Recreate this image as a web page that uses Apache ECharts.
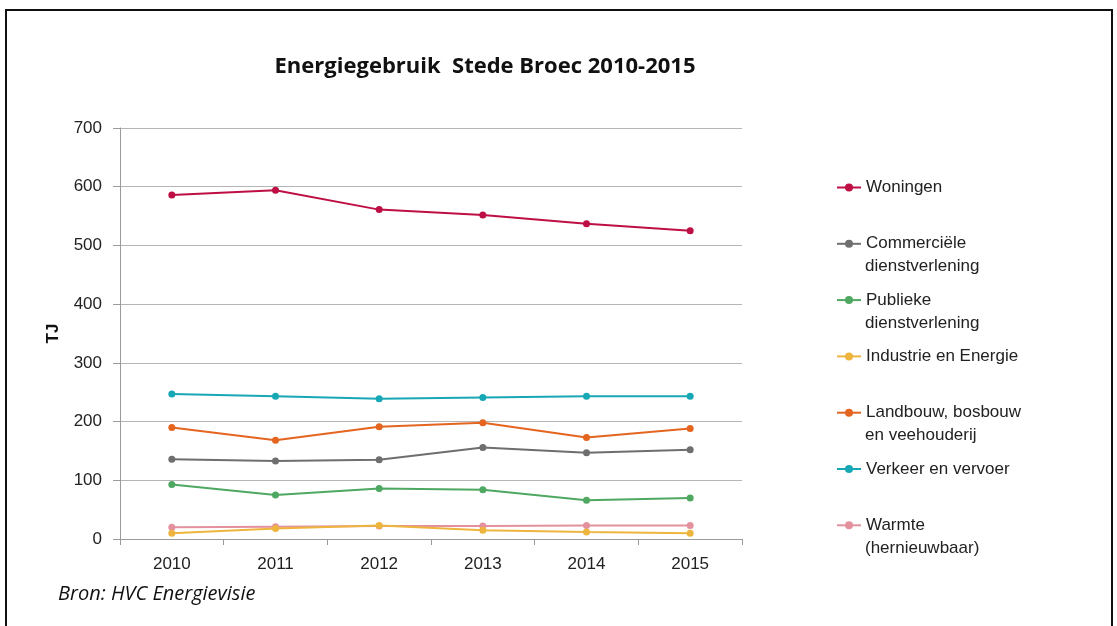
<!DOCTYPE html>
<html><head><meta charset="utf-8">
<script src="https://cdn.jsdelivr.net/npm/echarts@6/dist/echarts.min.js"></script>
<style>html,body{margin:0;padding:0;background:#fff}#c{width:1117px;height:626px}</style>
</head><body><div id="c"></div>
<script>
const years = ['2010','2011','2012','2013','2014','2015'];
const yTicks = [0,100,200,300,400,500,600,700];
const seriesNames = ['Woningen','Commerciële dienstverlening','Publieke dienstverlening','Industrie en Energie','Landbouw, bosbouw en veehouderij','Verkeer en vervoer','Warmte (hernieuwbaar)'];
const legendLine1 = ['Woningen','Commerciële','Publieke','Industrie en Energie','Landbouw, bosbouw','Verkeer en vervoer','Warmte'];
const legendLine2 = ['','dienstverlening','dienstverlening','','en veehouderij','','(hernieuwbaar)'];
const woningen = [586, 594, 561, 552, 537, 525];
const commercieel = [136, 133, 135, 156, 147, 152];
const publiek = [93, 75, 86, 84, 66, 70];
const industrie = [10, 18, 23, 15, 12, 10];
const landbouw = [190, 168, 191, 198, 173, 188];
const verkeer = [247, 243, 239, 241, 243, 243];
const warmte = [20, 21, 22, 22, 23, 23];
const colors = ['#BE0F45','#6E6E6E','#4FA862','#EDB53E','#E4651F','#18A8B5','#E4919E'];
const values = [woningen, commercieel, publiek, industrie, landbouw, verkeer, warmte];

const chart = echarts.init(document.getElementById('c'));
const series = seriesNames.map((n,i)=>({
  name:n, type:'line', data:values[i], symbol:'circle', symbolSize:7,
  lineStyle:{width:2,color:colors[i]}, itemStyle:{color:colors[i]}, z: 10-i
}));
const legendTop = 173, legendStep = 56.3;
const graphics = [
  {type:'rect', shape:{x:6,y:10,width:1106,height:640}, style:{fill:'none',stroke:'#111',lineWidth:2}, silent:true},
  {type:'text', left:58, top:584, style:{text:'Bron: HVC Energievisie', font:'italic 20px "Open Sans", sans-serif', fill:'#111'}}
];
legendLine2.forEach((t,i)=>{
  if(t) graphics.push({type:'text', left:865, top:legendTop+i*legendStep+29, style:{text:t, font:'17px "Liberation Sans", Arial, sans-serif', fill:'#222'}});
});
chart.setOption({
  animation:false,
  color:colors,
  title:{text:'Energiegebruik  Stede Broec 2010-2015', left:480, top:51, textAlign:'center',
    textStyle:{fontFamily:'"Open Sans", sans-serif', fontWeight:'bold', fontSize:22, color:'#111'}},
  grid:{left:120, right:375, top:128, bottom:87},
  xAxis:{type:'category', data:years, boundaryGap:true,
    axisLine:{lineStyle:{color:'#9a9a9a'}}, axisTick:{show:true, length:6, lineStyle:{color:'#9a9a9a'}},
    axisLabel:{fontFamily:'"Liberation Sans", Arial, sans-serif', fontSize:17, color:'#222', margin:17}},
  yAxis:{type:'value', min:0, max:700, interval:100, name:'TJ', nameLocation:'middle', nameGap:58, nameRotate:90,
    nameTextStyle:{fontFamily:'"Liberation Sans", Arial, sans-serif', fontWeight:'bold', fontSize:17, color:'#111'},
    axisLine:{show:true, lineStyle:{color:'#9a9a9a'}}, axisTick:{show:true, length:7, lineStyle:{color:'#9a9a9a'}},
    splitLine:{lineStyle:{color:'#b5b5b5', width:1}},
    axisLabel:{fontFamily:'"Liberation Sans", Arial, sans-serif', fontSize:17, color:'#222', margin:18,
      formatter:v=>yTicks.includes(v)?String(v):''}},
  legend:{orient:'vertical', left:831, top:legendTop, itemWidth:24, itemHeight:10, itemGap:legendStep-19,
    data:seriesNames, selectedMode:false,
    formatter:n=>legendLine1[seriesNames.indexOf(n)],
    textStyle:{fontFamily:'"Liberation Sans", Arial, sans-serif', fontSize:17, color:'#222', height:19, lineHeight:19}},
  graphic:graphics,
  series:series
});
</script></body></html>
